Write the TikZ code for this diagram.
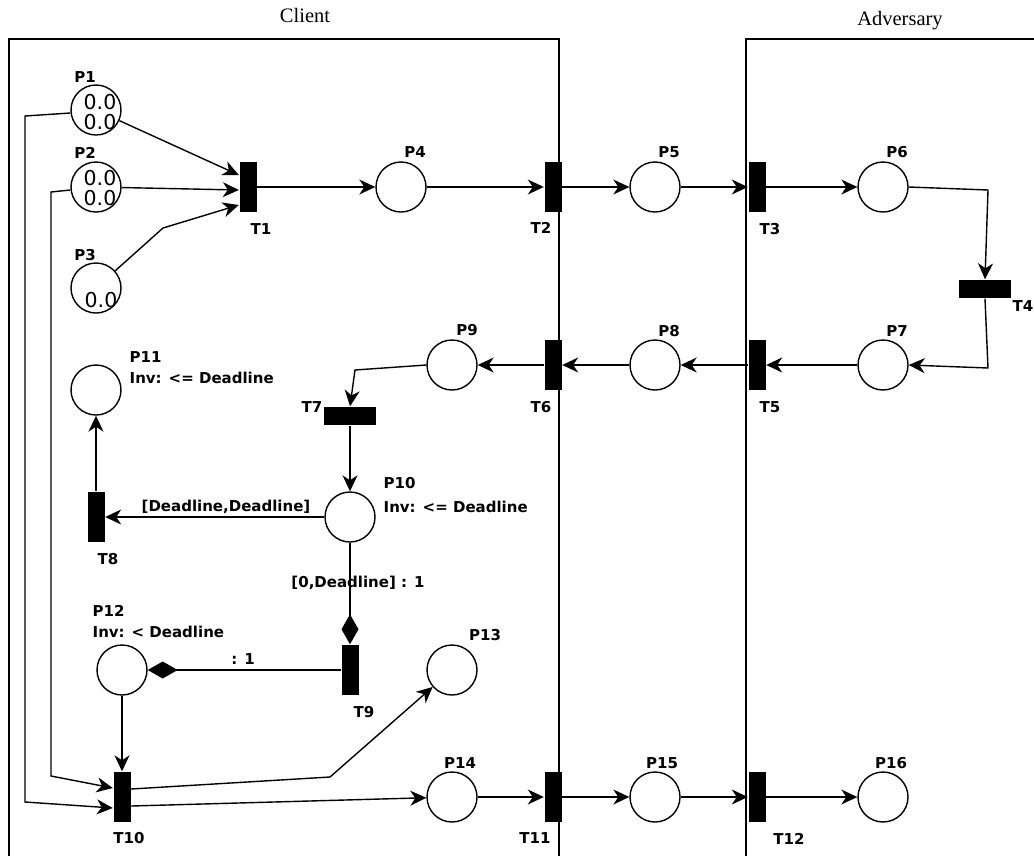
\documentclass[tikz,border=0pt]{standalone}
\usepackage{fontspec}
\setmainfont{Liberation Serif}
\newfontfamily\labfont{DejaVu Sans}
\usetikzlibrary{arrows.meta,calc}
\begin{document}
\begin{tikzpicture}[x=1pt,y=-1pt, line width=1.4pt,
  place/.style={circle,draw,minimum size=50pt,inner sep=0pt,line width=1.4pt},
  trans/.style={rectangle,fill=black,draw=none,minimum width=17pt,minimum height=50pt,inner sep=0pt},
  htrans/.style={rectangle,fill=black,draw=none,minimum width=52pt,minimum height=18pt,inner sep=0pt},
  lab/.style={font=\labfont\bfseries\fontsize{15}{16}\selectfont,inner sep=0pt},
  tok/.style={font=\labfont\fontsize{20.5}{19.5}\selectfont,inner sep=0pt,align=center},
  ttl/.style={font=\fontsize{20.5}{22}\selectfont,inner sep=0pt,anchor=base},
  arc/.style={draw,-{Stealth[length=16pt,width=15pt,inset=5pt]}},
  inh/.style={draw,-{Diamond[length=30pt,width=17pt]}},
  frame/.style={draw,line width=1.3pt}
]
\useasboundingbox (0,0) rectangle (1034,855);

% frames
\draw[frame] (9,856) -- (9,39) -- (559,39) -- (559,856);
\draw[frame] (746,856) -- (746,39) -- (1034,39);
\node[ttl] (tclient) at (305,22) {Client};
\node[ttl] (tadv) at (900,25) {Adversary};

% places
\node[place] (P1) at (96,110) {};
\node[place] (P2) at (96,187) {};
\node[place] (P3) at (96,288) {};
\node[place] (P4) at (401,187) {};
\node[place] (P5) at (655,187) {};
\node[place] (P6) at (883,187) {};
\node[place] (P7) at (883,365) {};
\node[place] (P8) at (655,365) {};
\node[place] (P9) at (452,365) {};
\node[place] (P10) at (350,517) {};
\node[place] (P11) at (96,390) {};
\node[place] (P12) at (122,670) {};
\node[place] (P13) at (452,670) {};
\node[place] (P14) at (452,797) {};
\node[place] (P15) at (655,797) {};
\node[place] (P16) at (883,797) {};

% tokens
\node[tok] (k1) at (100,112) {0.0\\0.0};
\node[tok] (k2) at (100,188) {0.0\\0.0};
\node[tok] (k3) at (101,300) {0.0};

% transitions
\node[trans] (T1) at (248,187) {};
\node[trans] (T2) at (553,187) {};
\node[trans] (T3) at (757,187) {};
\node[htrans] (T4) at (985,289) {};
\node[trans] (T5) at (757,365) {};
\node[trans] (T6) at (553,365) {};
\node[htrans] (T7) at (350,416) {};
\node[trans] (T8) at (96,517) {};
\node[trans] (T9) at (350,670) {};
\node[trans] (T10) at (122,797) {};
\node[trans] (T11) at (553,797) {};
\node[trans] (T12) at (757,797) {};

% place labels
\node[lab] (lP1) at (85,77) {P1};
\node[lab] (lP2) at (85,153) {P2};
\node[lab] (lP3) at (85,255) {P3};
\node[lab] (lP4) at (415,152) {P4};
\node[lab] (lP5) at (669,152) {P5};
\node[lab] (lP6) at (897,152) {P6};
\node[lab] (lP7) at (897,331) {P7};
\node[lab] (lP8) at (669,331) {P8};
\node[lab] (lP9) at (467,330) {P9};
\node[lab,anchor=west] (lP10) at (383,483) {P10};
\node[lab,anchor=west] (iP10) at (383,507) {Inv: <= Deadline};
\node[lab,anchor=west] (lP11) at (129,357) {P11};
\node[lab,anchor=west] (iP11) at (129,378) {Inv: <= Deadline};
\node[lab,anchor=west] (lP12) at (92,611) {P12};
\node[lab,anchor=west] (iP12) at (92,632) {Inv: < Deadline};
\node[lab] (lP13) at (485,635) {P13};
\node[lab] (lP14) at (460,763) {P14};
\node[lab] (lP15) at (662,763) {P15};
\node[lab] (lP16) at (891,763) {P16};

% transition labels
\node[lab] (lT1) at (261,229) {T1};
\node[lab] (lT2) at (541,228) {T2};
\node[lab] (lT3) at (770,229) {T3};
\node[lab] (lT4) at (1023,306) {T4};
\node[lab] (lT5) at (770,407) {T5};
\node[lab] (lT6) at (541,407) {T6};
\node[lab] (lT7) at (312,407) {T7};
\node[lab] (lT8) at (108,559) {T8};
\node[lab] (lT9) at (364,712) {T9};
\node[lab] (lT10) at (129,838) {T10};
\node[lab] (lT11) at (535,838) {T11};
\node[lab] (lT12) at (789,839) {T12};

% arcs
\draw[arc] (P1) -- ([yshift=12pt]T1.west);
\draw[arc] (P2) -- ([yshift=-3pt]T1.west);
\draw[arc] (P3) -- (163,228) -- ([yshift=-18pt]T1.west);
\draw[arc] (T1) -- (P4);
\draw[arc] (P4) -- (T2);
\draw[arc] (T2) -- (P5);
\draw[arc] (P5) -- (T3);
\draw[arc] (T3) -- (P6);
\draw[arc] (P6.east) -- (988,190) -- (T4.north);
\draw[arc] (T4.south) -- (988,368) -- (P7.east);
\draw[arc] (P7) -- (T5);
\draw[arc] (T5) -- (P8);
\draw[arc] (P8) -- (T6);
\draw[arc] (T6) -- (P9);
\draw[arc] (P9.west) -- (355,370) -- (T7.north);
\draw[arc] (T7) -- (P10);
\draw[arc] (P10) -- (T8);
\node[lab] (e1) at (226,507) {[Deadline,Deadline]};
\draw[arc] (T8) -- (P11);
\draw[inh] (P10) -- (T9);
\node[lab] (e2) at (358,583) {[0,Deadline] : 1};
\draw[inh] (T9) -- (P12);
\node[lab] (e3) at (243,659) {: 1};
\draw[arc] (P12) -- (T10);
\draw[arc] ([yshift=-3pt]P1.west) -- (25,116) -- (25,802) -- ([yshift=-11pt]T10.west);
\draw[arc] ([yshift=-3pt]P2.west) -- (51,192) -- (51,776) -- ([yshift=9pt]T10.west);
\draw[arc] ([yshift=8pt]T10.east) -- (330,777) -- (P13);
\draw[arc] ([yshift=-9pt]T10.east) -- (P14);
\draw[arc] (P14) -- (T11);
\draw[arc] (T11) -- (P15);
\draw[arc] (P15) -- (T12);
\draw[arc] (T12) -- (P16);
\end{tikzpicture}
\end{document}
